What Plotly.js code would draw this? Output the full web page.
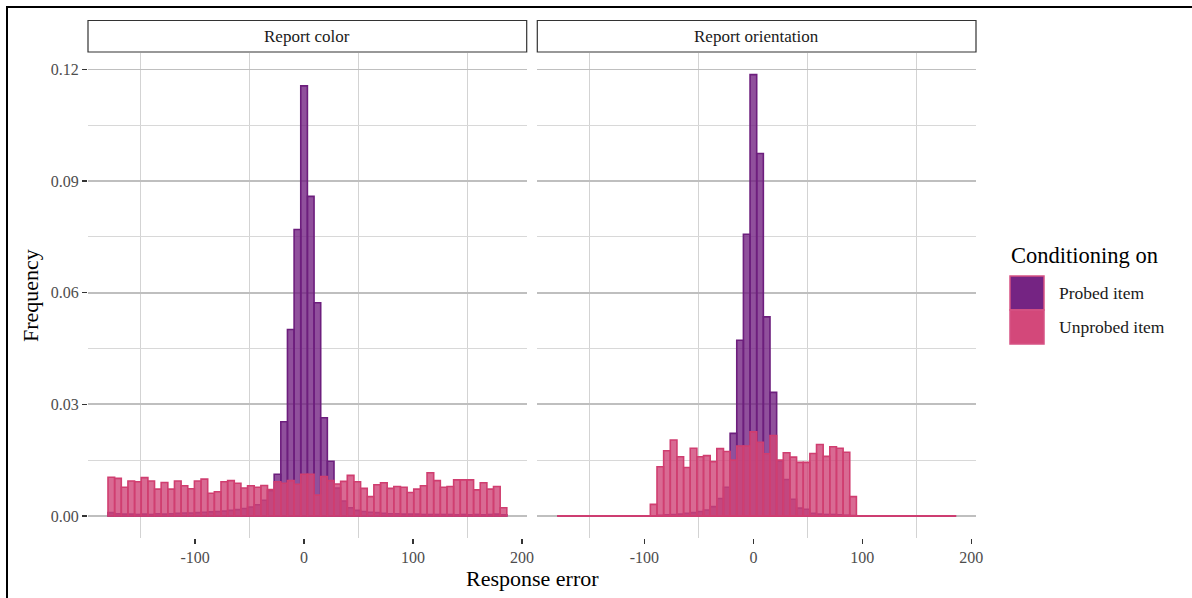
<!DOCTYPE html>
<html>
<head>
<meta charset="utf-8">
<script src="https://cdn.plot.ly/plotly-3.0.1.min.js"></script>
<style>html,body{margin:0;padding:0;background:#fff;}#chart{width:1192px;height:598px;}</style>
</head>
<body>
<div id="chart"></div>
<script>
// ---- data ----
const panels = ['Report color', 'Report orientation'];
const seriesNames = ['Probed item', 'Unprobed item'];
const legendTitle = 'Conditioning on';
const binWidth = 6.1;
const binCenters = [-176.9, -170.8, -164.7, -158.6, -152.5, -146.4, -140.3, -134.2, -128.1, -122,
  -115.9, -109.8, -103.7, -97.6, -91.5, -85.4, -79.3, -73.2, -67.1, -61,
  -54.9, -48.8, -42.7, -36.6, -30.5, -24.4, -18.3, -12.2, -6.1, 0,
  6.1, 12.2, 18.3, 24.4, 30.5, 36.6, 42.7, 48.8, 54.9, 61,
  67.1, 73.2, 79.3, 85.4, 91.5, 97.6, 103.7, 109.8, 115.9, 122,
  128.1, 134.2, 140.3, 146.4, 152.5, 158.6, 164.7, 170.8, 176.9, 183];

const colorProbed = [0.0009, 0.0006, 0.0005, 0.0005, 0.0004, 0.0005, 0.0004, 0.0006, 0.0005, 0.0006,
  0.0007, 0.0008, 0.0008, 0.0009, 0.0010, 0.0011, 0.0012, 0.0013, 0.0015, 0.0017,
  0.0020, 0.0024, 0.0030, 0.0042, 0.0068, 0.0112, 0.0253, 0.0501, 0.0770, 0.1156,
  0.0859, 0.0573, 0.0264, 0.0147, 0.0075, 0.0040, 0.0022, 0.0015, 0.0012, 0.0010,
  0.0009, 0.0007, 0.0006, 0.0006, 0.0005, 0.0005, 0.0005, 0.0004, 0.0004, 0.0004,
  0.0004, 0.0004, 0.0003, 0.0004, 0.0003, 0.0004, 0.0003, 0.0004, 0.0005, 0.0003];
const colorUnprobed = [0.0104, 0.0101, 0.0077, 0.0094, 0.0092, 0.0103, 0.0094, 0.0072, 0.0090, 0.0072,
  0.0094, 0.0081, 0.0073, 0.0094, 0.0099, 0.0061, 0.0065, 0.0092, 0.0095, 0.0088,
  0.0075, 0.0081, 0.0077, 0.0082, 0.0071, 0.0092, 0.0088, 0.0095, 0.0085, 0.0112,
  0.0112, 0.0056, 0.0106, 0.0095, 0.0086, 0.0093, 0.0109, 0.0092, 0.0074, 0.0052,
  0.0084, 0.0089, 0.0074, 0.0079, 0.0077, 0.0063, 0.0072, 0.0081, 0.0116, 0.0095,
  0.0077, 0.0079, 0.0097, 0.0097, 0.0097, 0.0070, 0.0089, 0.0072, 0.0079, 0.0022];
const orientProbed = [0, 0, 0, 0, 0, 0, 0, 0, 0, 0,
  0, 0, 0, 0, 0, 0.0002, 0.0003, 0.0004, 0.0005, 0.0007,
  0.0009, 0.0012, 0.0016, 0.0025, 0.0047, 0.0077, 0.0222, 0.0472, 0.0757, 0.1186,
  0.0974, 0.0535, 0.0332, 0.0148, 0.0098, 0.0045, 0.0021, 0.0018, 0.0007, 0.0005,
  0.0004, 0.0004, 0.0003, 0.0002, 0.0001, 0, 0, 0, 0, 0,
  0, 0, 0, 0, 0, 0, 0, 0, 0, 0];
const orientUnprobed = [0, 0, 0, 0, 0, 0, 0, 0, 0, 0,
  0, 0, 0, 0, 0.0031, 0.0132, 0.0175, 0.0204, 0.0159, 0.0130,
  0.0182, 0.0159, 0.0162, 0.0146, 0.0181, 0.0173, 0.0150, 0.0188, 0.0188, 0.0226,
  0.0198, 0.0167, 0.0216, 0.0150, 0.0170, 0.0158, 0.0144, 0.0144, 0.0168, 0.0192,
  0.0160, 0.0186, 0.0182, 0.0171, 0.0052, 0, 0, 0, 0, 0,
  0, 0, 0, 0, 0, 0, 0, 0, 0, 0];

const xTickVals = [-100, 0, 100, 200];
const xTickText = ['-100', '0', '100', '200'];
const xMinorVals = [-150, -50, 50, 150];
const yTickVals = [0, 0.03, 0.06, 0.09, 0.12];
const yMinorVals = [0.015, 0.045, 0.075, 0.105];

// ---- styling ----
const FONT = 'Liberation Serif, Times New Roman, serif';
const purpleFill = 'rgba(113,31,128,0.78)';
const purpleLine = 'rgb(109,30,125)';
const pinkFill = 'rgba(208,69,120,0.80)';
const pinkLine = 'rgb(208,62,112)';
const keyFills = ['rgb(117,36,131)', 'rgb(211,72,122)'];
const keyLine = 'rgb(214,82,132)';
const W = 1192, H = 598;

function bars(y, xa, ya, name, fill, line) {
  return {
    type: 'bar', x: binCenters, y: y, width: binWidth,
    xaxis: xa, yaxis: ya, name: name, legendgroup: name, showlegend: false,
    marker: {color: fill, line: {color: line, width: 1.6}},
    hoverinfo: 'x+y'
  };
}
const edges = [binCenters[0] - binWidth / 2, binCenters[binCenters.length - 1] + binWidth / 2];

const traces = [
  bars(colorProbed, 'x', 'y', seriesNames[0], purpleFill, purpleLine),
  bars(orientProbed, 'x2', 'y2', seriesNames[0], purpleFill, purpleLine),
  bars(colorUnprobed, 'x', 'y', seriesNames[1], pinkFill, pinkLine),
  bars(orientUnprobed, 'x2', 'y2', seriesNames[1], pinkFill, pinkLine),
  {type: 'scatter', mode: 'lines', x: edges, y: [0, 0], xaxis: 'x2', yaxis: 'y2',
   line: {color: pinkLine, width: 1.8}, showlegend: false, hoverinfo: 'skip'}
];

const xRange = [-198.3, 204.3];
const yRange = [-0.00593, 0.12453];
const panelTop = 52.6, panelBottom = 538;
const yDom = [1 - panelBottom / H, 1 - panelTop / H];
const xDom1 = [88 / W, 526.7 / W];
const xDom2 = [537.3 / W, 976 / W];

function xaxis(dom, anchor) {
  return {
    domain: dom, anchor: anchor, range: xRange, fixedrange: true,
    tickmode: 'array', tickvals: xTickVals, ticktext: xTickText,
    ticks: 'outside', ticklen: 5, tickwidth: 1.3, tickcolor: '#333333',
    tickfont: {family: FONT, size: 16, color: '#4d4d4d'},
    showgrid: false, zeroline: false, showline: false, automargin: false,
    minor: {tickmode: 'array', tickvals: xMinorVals, showgrid: true, gridcolor: '#d3d3d3', gridwidth: 1, ticks: ''}
  };
}
function yaxis(dom, anchor, showLabels) {
  return {
    domain: dom, anchor: anchor, range: yRange, fixedrange: true,
    tickmode: 'array', tickvals: yTickVals, tickformat: '.2f',
    showticklabels: showLabels,
    ticks: showLabels ? 'outside' : '', ticklen: 5, tickwidth: 1.3, tickcolor: '#333333',
    tickfont: {family: FONT, size: 16, color: '#4d4d4d'},
    showgrid: true, gridcolor: '#bfbfbf', gridwidth: 1.7,
    zeroline: false, showline: false, automargin: false,
    minor: {tickmode: 'array', tickvals: yMinorVals, showgrid: true, gridcolor: '#d8d8d8', gridwidth: 1.1, ticks: ''}
  };
}

// legend (keys + labels) built from the series names
const keyX0 = 1010, keyX1 = 1044, keyTop = 276, keyH = 34;
const legendShapes = seriesNames.map((n, i) => ({
  type: 'rect', xref: 'paper', yref: 'paper',
  x0: keyX0 / W, x1: keyX1 / W,
  y0: 1 - (keyTop + (i + 1) * keyH) / H, y1: 1 - (keyTop + i * keyH) / H,
  fillcolor: keyFills[i], line: {color: keyLine, width: 1.5}
}));
const legendLabels = seriesNames.map((n, i) => ({
  text: n, xref: 'paper', yref: 'paper', x: 1057 / W, y: 1 - (keyTop + (i + 0.5) * keyH) / H,
  xanchor: 'left', yanchor: 'middle', showarrow: false,
  font: {family: FONT, size: 17.5, color: '#1a1a1a'}
}));

const stripY0 = 1 - 52 / H, stripY1 = 1 - 20.5 / H;
const layout = {
  width: W, height: H,
  margin: {l: 0, r: 0, t: 0, b: 0},
  paper_bgcolor: '#ffffff', plot_bgcolor: '#ffffff',
  barmode: 'overlay', bargap: 0,
  font: {family: FONT, color: '#000000'},
  xaxis: xaxis(xDom1, 'y'),
  yaxis: yaxis(yDom, 'x', true),
  xaxis2: xaxis(xDom2, 'y2'),
  yaxis2: yaxis(yDom, 'x2', false),
  showlegend: false,
  shapes: [
    {type: 'rect', xref: 'paper', yref: 'paper', x0: 7 / W, x1: 1.02, y0: -0.02, y1: 1 - 7 / H,
     line: {color: '#000', width: 2}, fillcolor: 'rgba(0,0,0,0)', layer: 'above'},
    {type: 'rect', xref: 'paper', yref: 'paper', x0: xDom1[0], x1: xDom1[1], y0: stripY0, y1: stripY1,
     line: {color: '#333', width: 1.2}, fillcolor: '#ffffff'},
    {type: 'rect', xref: 'paper', yref: 'paper', x0: xDom2[0], x1: xDom2[1], y0: stripY0, y1: stripY1,
     line: {color: '#333', width: 1.2}, fillcolor: '#ffffff'}
  ].concat(legendShapes),
  annotations: [
    {text: panels[0], xref: 'paper', yref: 'paper', x: (xDom1[0] + xDom1[1]) / 2, y: (stripY0 + stripY1) / 2,
     xanchor: 'center', yanchor: 'middle', showarrow: false, font: {family: FONT, size: 17, color: '#1a1a1a'}},
    {text: panels[1], xref: 'paper', yref: 'paper', x: (xDom2[0] + xDom2[1]) / 2, y: (stripY0 + stripY1) / 2,
     xanchor: 'center', yanchor: 'middle', showarrow: false, font: {family: FONT, size: 17, color: '#1a1a1a'}},
    {text: 'Response error', xref: 'paper', yref: 'paper', x: (xDom1[0] + xDom2[1]) / 2, y: 1 - 578 / H,
     xanchor: 'center', yanchor: 'middle', showarrow: false, font: {family: FONT, size: 22, color: '#000'}},
    {text: 'Frequency', xref: 'paper', yref: 'paper', x: 30 / W, y: 1 - 295 / H, textangle: -90,
     xanchor: 'center', yanchor: 'middle', showarrow: false, font: {family: FONT, size: 22, color: '#000'}},
    {text: legendTitle, xref: 'paper', yref: 'paper', x: 1009 / W, y: 1 - 256 / H,
     xanchor: 'left', yanchor: 'middle', showarrow: false, font: {family: FONT, size: 22.5, color: '#000'}}
  ].concat(legendLabels)
};

Plotly.newPlot('chart', traces, layout, {staticPlot: true, displayModeBar: false});
</script>
</body>
</html>
